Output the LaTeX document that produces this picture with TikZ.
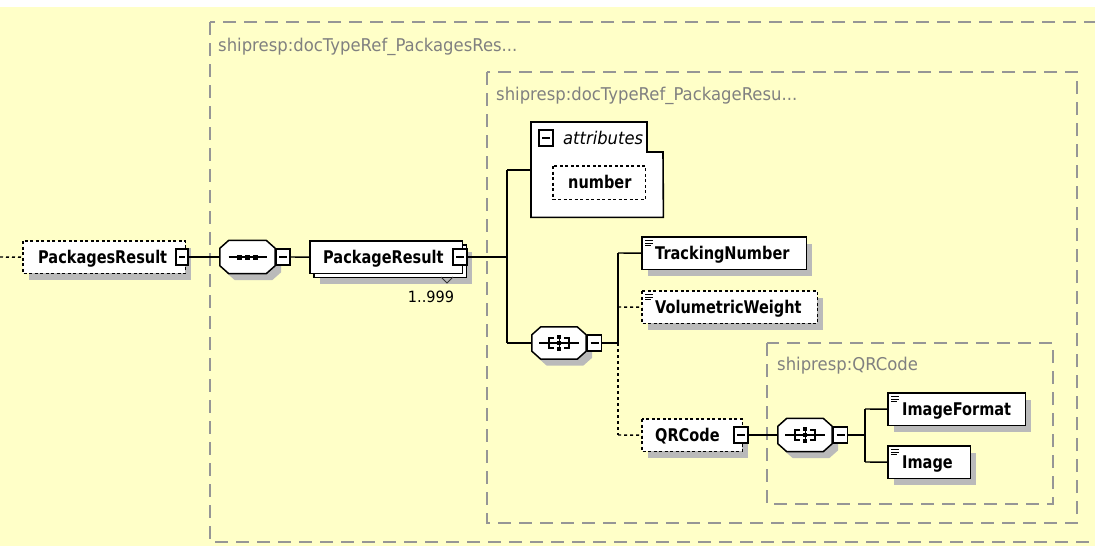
\documentclass[tikz,border=0pt]{standalone}
\usepackage{fontspec}
\setmainfont{Liberation Sans}
\newfontfamily\tahreg[FakeStretch=0.935]{DejaVu Sans}
\newfontfamily\tahbold[FakeStretch=0.83]{DejaVu Sans}
\definecolor{bgy}{RGB}{255,255,200}
\definecolor{frameg}{RGB}{150,150,150}
\definecolor{labelg}{RGB}{128,128,128}
\colorlet{shadegrey}{black!27}
\newcommand\octagonat[1]{%
  \draw[line width=1.5pt, fill=white] ([shift={(9,0)}]#1.north west) -- ([shift={(-9,0)}]#1.north east)
    -- ([shift={(0,8)}]#1.north east) -- ([shift={(0,-8)}]#1.south east)
    -- ([shift={(-9,0)}]#1.south east) -- ([shift={(9,0)}]#1.south west)
    -- ([shift={(0,-8)}]#1.south west) -- ([shift={(0,8)}]#1.north west) -- cycle;}
\newcommand\octshadow[1]{%
  \path[fill=shadegrey] ([shift={(15,6.5)}]#1.north west) -- ([shift={(-3,6.5)}]#1.north east)
    -- ([shift={(6,14.5)}]#1.north east) -- ([shift={(6,-1.5)}]#1.south east)
    -- ([shift={(-3,6.5)}]#1.south east) -- ([shift={(15,6.5)}]#1.south west)
    -- ([shift={(6,-1.5)}]#1.south west) -- ([shift={(6,14.5)}]#1.north west) -- cycle;}
\newcommand\boxshadow[1]{%
  \path[fill=shadegrey] ([shift={(6,6.5)}]#1.north west) rectangle ([shift={(6,6.5)}]#1.south east);}
\begin{document}
\begin{tikzpicture}[x=1pt,y=-1pt,
  frame/.style={draw=frameg, line width=1.5pt, dash pattern=on 13pt off 8pt},
  framelabel/.style={anchor=base west, inner sep=0, text=labelg, font=\tahreg\fontsize{17.6}{20}\selectfont},
  elemgeom/.style={inner sep=0, anchor=north west},
  ebox/.style={line width=1.7pt, fill=white},
  optebox/.style={ebox, dash pattern=on 3pt off 2.5pt},
  ename/.style={anchor=base west, inner sep=0, font=\tahbold\bfseries\fontsize{17.5}{20}\selectfont},
  minusbox/.style={draw=black, fill=white, line width=1.2pt, minimum width=14pt, minimum height=16pt, inner sep=0,
    path picture={\draw[line width=1.2pt] ([xshift=3pt]path picture bounding box.west) -- ([xshift=-3pt]path picture bounding box.east);}},
  octnode/.style={inner sep=0, minimum width=55pt, minimum height=33pt},
  conn/.style={line width=1.4pt},
  optconn/.style={line width=1.4pt, dash pattern=on 3pt off 3pt},
  choiceicon/.pic={
    \draw[line width=1.2pt] (-20,0) -- (20,0);
    \draw[line width=1.2pt] (-5,-5) -- (-10,-5) -- (-10,5) -- (-5,5);
    \draw[line width=1.2pt] (5,-5) -- (10,-5) -- (10,5) -- (5,5);
    \draw[line width=1pt] (0,-6) -- (0,6);
    \fill (-2,-8) rectangle (2,-4);
    \fill (-2,-2) rectangle (2,2);
    \fill (-2,4) rectangle (2,8);
  },
  seqicon/.pic={
    \draw[line width=1.2pt] (-19,0) -- (19,0);
    \fill (-10.5,-2.5) rectangle (-5.5,2.5);
    \fill (-2.5,-2.5) rectangle (2.5,2.5);
    \fill (5.5,-2.5) rectangle (10.5,2.5);
  },
  elicon/.pic={
    \draw[line width=0.8pt] (0,0) -- (8,0);
    \draw[line width=0.8pt] (0,2.5) -- (8,2.5);
    \draw[line width=0.8pt] (0,5) -- (6,5);
  }
]
\useasboundingbox (0,0) rectangle (1095,546);
\fill[bgy] (0,7) rectangle (1095,546);
\draw[frame] (210,22) rectangle (1110,542);
\draw[frame] (487,72) rectangle (1077,523);
\draw[frame] (767,343) rectangle (1053,504);
\node[framelabel] (lab1) at (218,51) {shipresp:docTypeRef\_PackagesRes...};
\node[framelabel] (lab2) at (496,100) {shipresp:docTypeRef\_PackageResu...};
\node[framelabel] (lab3) at (777,370) {shipresp:QRCode};

% geometry nodes
\coordinate (lstart) at (0,257);
\node[elemgeom, minimum width=162pt, minimum height=32pt] (psr) at (23,241) {};
\node[octnode] (seq) at (247.5,257) {};
\node[elemgeom, minimum width=152pt, minimum height=32pt] (pkrb) at (314,245) {};
\node[elemgeom, minimum width=152pt, minimum height=32pt] (pkr) at (310,241) {};
\node[elemgeom, minimum width=92pt, minimum height=33pt] (num) at (553,166) {};
\node[octnode, minimum width=54pt, minimum height=32pt] (ch1) at (559,343) {};
\node[elemgeom, minimum width=164pt, minimum height=32pt] (trk) at (642,237) {};
\node[elemgeom, minimum width=175pt, minimum height=32pt] (vol) at (642,291) {};
\node[elemgeom, minimum width=100pt, minimum height=32pt] (qr) at (642,419) {};
\node[octnode, minimum width=54pt, minimum height=33pt] (ch2) at (805,435) {};
\node[elemgeom, minimum width=137pt, minimum height=32pt] (imf) at (888,393) {};
\node[elemgeom, minimum width=82pt, minimum height=32pt] (img) at (888,446) {};

% shadows
\boxshadow{psr}
\octshadow{seq}
\boxshadow{pkrb}
\boxshadow{num}
\octshadow{ch1}
\boxshadow{trk}
\boxshadow{vol}
\boxshadow{qr}
\octshadow{ch2}
\boxshadow{imf}
\boxshadow{img}

% PackagesResult
\draw[optebox] (psr.north west) rectangle (psr.south east);
\node[ename] (psrt) at (38,263) {PackagesResult};
\node[minusbox, minimum width=12pt] (m0) at (182,257) {};

% sequence
\octagonat{seq}
\pic at (seq.center) {seqicon};
\node[minusbox] (m1) at (283,257) {};

% PackageResult (stacked)
\draw[ebox] (pkrb.north west) rectangle (pkrb.south east);
\draw[ebox] (pkr.north west) rectangle (pkr.south east);
\node[ename] (pkrt) at (323,263) {PackageResult};
\node[minusbox] (m2) at (460,257) {};
\draw[line width=1pt, draw=black!80] (441,277) -- (447,283) -- (453,277);
\node[inner sep=0, font=\tahreg\fontsize{15.5}{18}\selectfont] (occ) at (431,297) {1..999};

% bus 1
\coordinate (j1) at (507,257);
\coordinate (b1top) at (507,170);
\coordinate (b1bot) at (507,343);

% attributes
\node[inner sep=0, minimum width=132pt, minimum height=95pt, anchor=north west] (attr) at (531,122) {};
\draw[line width=1.6pt, fill=white] (attr.north west) -- ++(116,0) -- ++(0,30) -- ++(16,0) -- (attr.south east) -- (attr.south west) -- cycle;
\node[minusbox] (ma) at (546,138) {};
\node[anchor=base west, inner sep=0, font=\tahreg\itshape\fontsize{17.5}{20}\selectfont] (attrt) at (563,144) {attributes};
\draw[optebox] (num.north west) rectangle (num.south east);
\node[ename] (numt) at (568,188.5) {number};

% choice 1
\octagonat{ch1}
\pic at (ch1.center) {choiceicon};
\node[minusbox] (m3) at (594.5,343) {};
\coordinate (j3) at (618,343);
\coordinate (b2top) at (618,253);
\coordinate (b2bot) at (618,435);
\coordinate (b2mid) at (618,307);

% children of choice 1
\draw[ebox] (trk.north west) rectangle (trk.south east);
\pic at (645,240.5) {elicon};
\node[ename] (trkt) at (655,259) {TrackingNumber};
\draw[optebox] (vol.north west) rectangle (vol.south east);
\pic at (645,294.5) {elicon};
\node[ename] (volt) at (655,313) {VolumetricWeight};
\draw[optebox] (qr.north west) rectangle (qr.south east);
\node[ename] (qrt) at (655,441) {QRCode};
\node[minusbox] (m4) at (741,435) {};

% choice 2
\octagonat{ch2}
\pic at (ch2.center) {choiceicon};
\node[minusbox] (m5) at (840.5,435) {};
\coordinate (j5) at (865,435);
\coordinate (b3top) at (865,409);
\coordinate (b3bot) at (865,462);
\draw[ebox] (imf.north west) rectangle (imf.south east);
\pic at (891,396.5) {elicon};
\node[ename] (imft) at (902,415) {ImageFormat};
\draw[ebox] (img.north west) rectangle (img.south east);
\pic at (891,449.5) {elicon};
\node[ename] (imgt) at (902,468) {Image};

% connectors
\draw[optconn] (lstart) -- (psr.west);
\draw[conn] (m0.east) -- (seq.west);
\draw[conn] (m1.east) -- (pkr.west);
\draw[conn] (m2.east) -- (j1);
\draw[conn] (b1top) -- (b1bot);
\draw[conn] (b1top) -- (b1top -| attr.west);
\draw[conn] (b1bot) -- (ch1.west);
\draw[conn] (m3.east) -- (j3);
\draw[conn] (b2top) -- (j3);
\draw[optconn] (j3) -- (b2bot);
\draw[conn] (b2top) -- (trk.west);
\draw[optconn] (b2mid) -- (vol.west);
\draw[optconn] (b2bot) -- (qr.west);
\draw[conn] (m4.east) -- (ch2.west);
\draw[conn] (m5.east) -- (j5);
\draw[conn] (b3top) -- (b3bot);
\draw[conn] (b3top) -- (imf.west);
\draw[conn] (b3bot) -- (img.west);
\end{tikzpicture}
\end{document}
